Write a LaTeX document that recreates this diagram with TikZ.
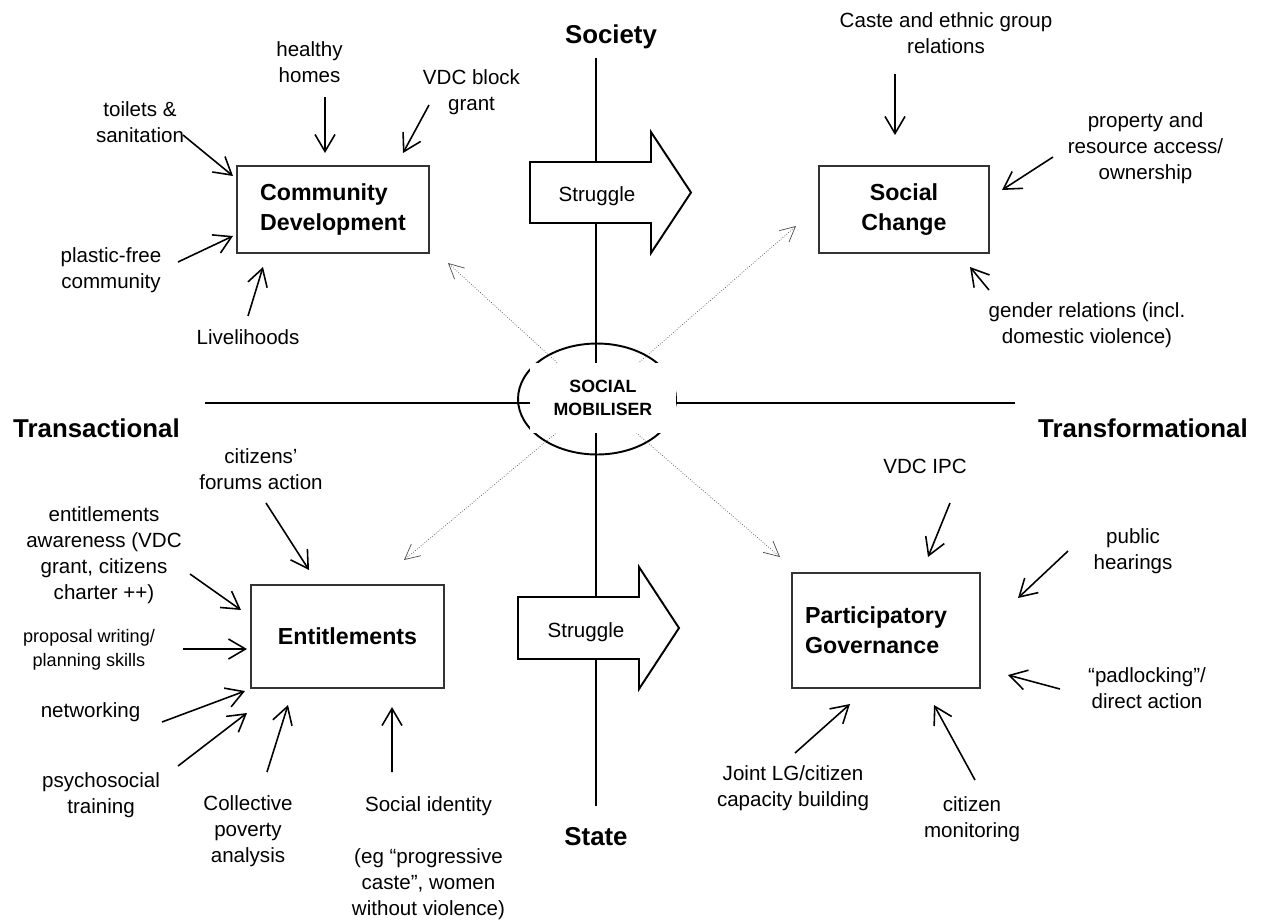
\documentclass[tikz,border=0pt]{standalone}
\usepackage{fontspec}
\setmainfont{Liberation Sans}
\usetikzlibrary{arrows.meta,calc,shapes.geometric}
\tikzset{
  pbox/.style={draw=black!80, line width=0.8pt, fill=white, inner sep=0pt, font=\fontsize{13.2}{17}\selectfont\bfseries},
  lbl/.style={align=center, inner sep=0pt, font=\fontsize{11.7}{14.8}\selectfont},
  slbl/.style={lbl, font=\fontsize{10.3}{13.5}\selectfont},
  axl/.style={inner sep=0pt, anchor=base, font=\fontsize{14.7}{17}\selectfont\bfseries},
  feed/.style={-{Straight Barb[length=3.4mm,width=4mm]}, line width=0.9pt},
  cue/.style={-{Straight Barb[length=3mm,width=3mm]}, densely dotted, line width=0.4pt, black!70},
  axln/.style={line width=1.1pt},
  struggle/.style={draw, fill=white, line width=1.1pt, line join=miter}
}

\begin{document}
\begin{tikzpicture}[x=0.02cm, y=-0.02cm]
\useasboundingbox (0,0) rectangle (1264,921);

% axes and the mobiliser ring
\node[draw, ellipse, line width=1.1pt, minimum width=3.16cm, minimum height=2.22cm] (mob) at (597,399) {};
\draw[axln] (596,58) -- (596,806);
\draw[axln] (205,403) -- (1015,403);
\node[axl] (society) at (611,43) {Society};
\node[axl] (state) at (596,845) {State};
\node[axl] (transac) at (96.5,437) {Transactional};
\node[axl] (transf) at (1143,437) {Transformational};

% struggle arrows
\draw[struggle] (530,162) -- (651,162) -- (651,132) -- (691,192.5) -- (651,253) -- (651,223) -- (530,223) -- cycle;
\node[lbl] (strug1) at (597,196) {Struggle};
\draw[struggle] (518,597) -- (639,597) -- (639,567) -- (679,628) -- (639,689) -- (639,659) -- (518,659) -- cycle;
\node[lbl] (strug2) at (586,632) {Struggle};

% the four fields
\node[pbox, minimum width=3.84cm, minimum height=1.74cm, align=left] (cd) at (333,209.5) {Community\\Development};
\node[pbox, minimum width=3.4cm, minimum height=1.74cm, align=center] (sc) at (904,209.5) {Social\\Change};
\node[pbox, minimum width=3.86cm, minimum height=2.06cm] (en) at (347.5,636.5) {Entitlements};
\node[pbox, minimum width=3.76cm, minimum height=2.3cm, align=left] (pg) at (886,630.5) {Participatory\hspace*{0.4cm}\\Governance};

\draw[cue] (mob.center) -- ($(cd)+(115,53.5)$);
\draw[cue] (mob.center) -- ($(sc)+(-108,16.5)$);
\draw[cue] (mob.center) -- ($(en)+(56.5,-76.5)$);
\draw[cue] (mob.center) -- ($(pg)+(-106,-73.5)$);
\node[fill=white, inner sep=0pt, minimum width=2.92cm, minimum height=1.4cm, align=center,
      font=\fontsize{10.1}{13}\selectfont\bfseries] (mobtxt) at (603,398) {SOCIAL\\MOBILISER};

% community development
\node[lbl] (hhomes) at (309.5,62) {healthy\\homes};
\node[lbl] (vdcgrant) at (471.5,92) {VDC block\\grant};
\node[lbl] (toilets) at (140,122.5) {toilets \&\\sanitation};
\node[lbl] (plastic) at (111,270) {plastic-free\\community};
\node[lbl] (liveli) at (248,337) {Livelihoods};
\draw[feed] ($(hhomes)+(15.5,35)$) -- ($(cd)+(-8,-56.5)$);
\draw[feed] ($(vdcgrant)+(-42.5,13)$) -- ($(cd)+(70,-56.5)$);
\draw[feed] ($(toilets)+(43,12.5)$) -- ($(cd)+(-100,-33.5)$);
\draw[feed] ($(plastic)+(67,-8)$) -- ($(cd)+(-100,26.5)$);
\draw[feed] ($(liveli)+(0,-21)$) -- ($(cd)+(-70,57.5)$);

% social change
\node[lbl] (caste) at (946,33) {Caste and ethnic group\\relations};
\node[lbl] (property) at (1145.5,148) {property and\\resource access/\\ownership};
\node[lbl] (gender) at (1087,325) {gender relations (incl.\\domestic violence)};
\draw[feed] ($(caste)+(-51,41)$) -- ($(sc)+(-9,-74.5)$);
\draw[feed] ($(property)+(-92.5,9)$) -- ($(sc)+(98,-19.5)$);
\draw[feed] ($(gender)+(-98,-35)$) -- ($(sc)+(66,57.5)$);

% entitlements
\node[lbl] (forums) at (261,469) {citizens’\\forums action};
\node[lbl] (aware) at (104,555) {entitlements\\awareness (VDC\\grant, citizens\\charter ++)};
\node[slbl] (proposal) at (89,650) {proposal writing/\\planning skills};
\node[lbl] (network) at (90.5,712) {networking};
\node[lbl] (psycho) at (101,795) {psychosocial\\training};
\node[lbl] (poverty) at (248,831) {Collective\\poverty\\analysis};
\node[lbl] (identity) at (428.5,858) {Social identity\\[14.8pt](eg “progressive\\caste”, women\\without violence)};
\draw[feed] ($(forums)+(5,34)$) -- ($(en)+(-38.5,-66.5)$);
\draw[feed] ($(aware)+(86,19)$) -- ($(en)+(-106.5,-26.5)$);
\draw[feed] ($(proposal)+(94,-1)$) -- ($(en)+(-100.5,12.5)$);
\draw[feed] ($(network)+(71.5,10)$) -- ($(en)+(-102.5,54.5)$);
\draw[feed] ($(psycho)+(77,-29)$) -- ($(en)+(-100.5,76.5)$);
\draw[feed] ($(poverty)+(19,-59)$) -- ($(en)+(-59.5,68.5)$);
\draw[feed] ($(identity)+(-36.5,-86)$) -- ($(en)+(44.5,70.5)$);

% participatory governance
\node[lbl] (ipc) at (925,466) {VDC IPC};
\node[lbl] (hearings) at (1133,551) {public\\hearings};
\node[lbl] (padlock) at (1147,688) {“padlocking”/\\direct action};
\node[lbl] (jointlg) at (793,788) {Joint LG/citizen\\capacity building};
\node[lbl] (monitor) at (972,819) {citizen\\monitoring};
\draw[feed] ($(ipc)+(25,37)$) -- ($(pg)+(42,-73.5)$);
\draw[feed] ($(hearings)+(-65,0)$) -- ($(pg)+(132,-32.5)$);
\draw[feed] ($(padlock)+(-87,1)$) -- ($(pg)+(122,44.5)$);
\draw[feed] ($(jointlg)+(2,-35)$) -- ($(pg)+(-36,73.5)$);
\draw[feed] ($(monitor)+(3,-39)$) -- ($(pg)+(48,74.5)$);
\end{tikzpicture}
\end{document}
